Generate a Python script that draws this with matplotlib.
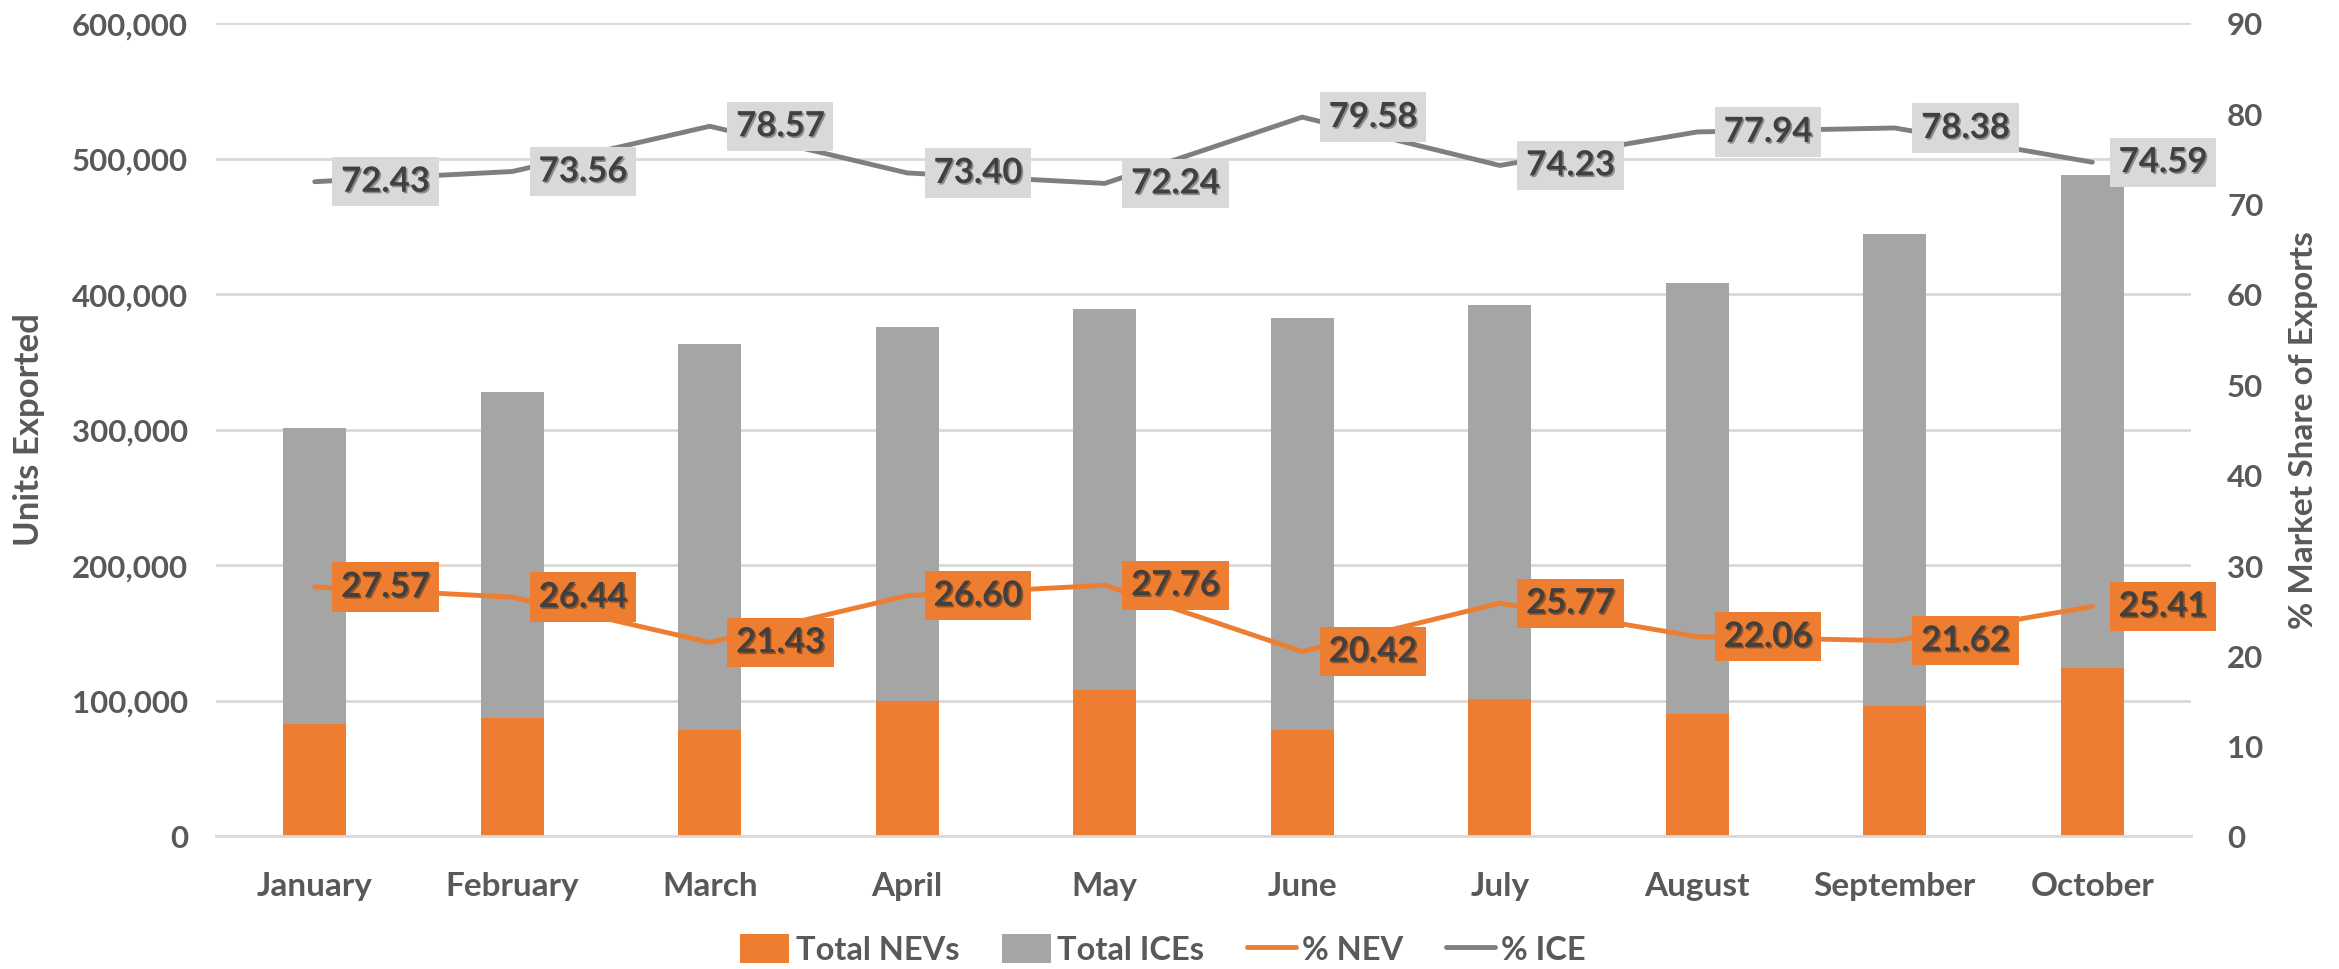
import matplotlib
matplotlib.use("Agg")
import matplotlib.pyplot as plt
import matplotlib.patheffects as pe
from matplotlib.ticker import FuncFormatter, MultipleLocator
import numpy as np

months = ["January", "February", "March", "April", "May", "June",
          "July", "August", "September", "October"]
total_nev = [83000, 87000, 78000, 100000, 108000, 78000, 101000, 90000, 96000, 124000]
total_ice = [218000, 241000, 285000, 276000, 281000, 304000, 291000, 318000, 348000, 364000]
pct_nev = [27.57, 26.44, 21.43, 26.60, 27.76, 20.42, 25.77, 22.06, 21.62, 25.41]
pct_ice = [72.43, 73.56, 78.57, 73.40, 72.24, 79.58, 74.23, 77.94, 78.38, 74.59]

ORANGE = "#ED7D31"
GRAY_BAR = "#A5A5A5"
GRAY_LINE = "#7F7F7F"
TICK_C = "#595959"
LABEL_C = "#404040"
GRID_C = "#D9D9D9"

plt.rcParams["font.family"] = ["Lato", "DejaVu Sans"]
plt.rcParams["font.weight"] = "bold"

fig = plt.figure(figsize=(23.39, 9.70), dpi=100)
ax = fig.add_axes([216/2339, 1-837/970, (2191-216)/2339, (837-24)/970])

x = np.arange(len(months))
w = 0.32
ax.bar(x, total_nev, w, color=ORANGE, label="Total NEVs", zorder=2)
ax.bar(x, total_ice, w, bottom=total_nev, color=GRAY_BAR, label="Total ICEs", zorder=2)

ax.set_xlim(-0.5, len(months) - 0.5)
ax.set_ylim(0, 600000)
ax.yaxis.set_major_locator(MultipleLocator(100000))
ax.yaxis.set_major_formatter(FuncFormatter(lambda v, p: f"{int(v):,}"))
ax.grid(axis="y", color=GRID_C, linewidth=2, zorder=0)
ax.set_axisbelow(True)
for s in ["top", "right", "left"]:
    ax.spines[s].set_visible(False)
ax.spines["bottom"].set_color(GRID_C)
ax.spines["bottom"].set_linewidth(2)
ax.set_xticks(x)
ax.set_xticklabels(months)
ax.tick_params(axis="x", length=0, pad=25, labelsize=24, labelcolor=TICK_C)
ax.tick_params(axis="y", length=0, pad=20, labelsize=22.5, labelcolor=TICK_C)

ax2 = ax.twinx()
ax2.set_ylim(0, 90)
ax2.yaxis.set_major_locator(MultipleLocator(10))
for s in ax2.spines.values():
    s.set_visible(False)
ax2.tick_params(axis="y", length=0, pad=26, labelsize=22.5, labelcolor=TICK_C)

ax2.plot(x, pct_nev, color=ORANGE, lw=3.5, solid_capstyle="round", label="% NEV", zorder=3)
ax2.plot(x, pct_ice, color=GRAY_LINE, lw=3.5, solid_capstyle="round", label="% ICE", zorder=3)

shadow = [pe.SimplePatchShadow(offset=(1.2, -1.2), shadow_rgbFace="#000000", alpha=0.35), pe.Normal()]
for xi, v in zip(x, pct_nev):
    ax2.annotate(f"{v:.2f}", (xi, v), xytext=(19, 0), textcoords="offset points",
                 ha="left", va="center", fontsize=25, fontweight="bold", color=LABEL_C,
                 bbox=dict(boxstyle="square,pad=0.25", fc=ORANGE, ec="none"),
                 path_effects=shadow, zorder=5)
for xi, v in zip(x, pct_ice):
    ax2.annotate(f"{v:.2f}", (xi, v), xytext=(19, 0), textcoords="offset points",
                 ha="left", va="center", fontsize=25, fontweight="bold", color=LABEL_C,
                 bbox=dict(boxstyle="square,pad=0.25", fc="#D9D9D9", ec="none"),
                 path_effects=shadow, zorder=5)

fig.text(29/2339, 1-430/970, "Units Exported", rotation=90, ha="center", va="center",
         fontsize=25, fontweight="bold", color=TICK_C)
fig.text(2303/2339, 1-430/970, "% Market Share of Exports", rotation=90, ha="center", va="center",
         fontsize=24, fontweight="bold", color=TICK_C)

h1, l1 = ax.get_legend_handles_labels()
h2, l2 = ax2.get_legend_handles_labels()
leg = fig.legend(h1 + h2, l1 + l2, loc="center", bbox_to_anchor=(1163/2339, 1-950/970),
                 ncol=4, frameon=False, fontsize=23.5, handlelength=1.5, handleheight=1.0,
                 columnspacing=1.3, handletextpad=0.2)
for t in leg.get_texts():
    t.set_color(TICK_C)

fig.savefig("out.png", dpi=100, facecolor="white")
